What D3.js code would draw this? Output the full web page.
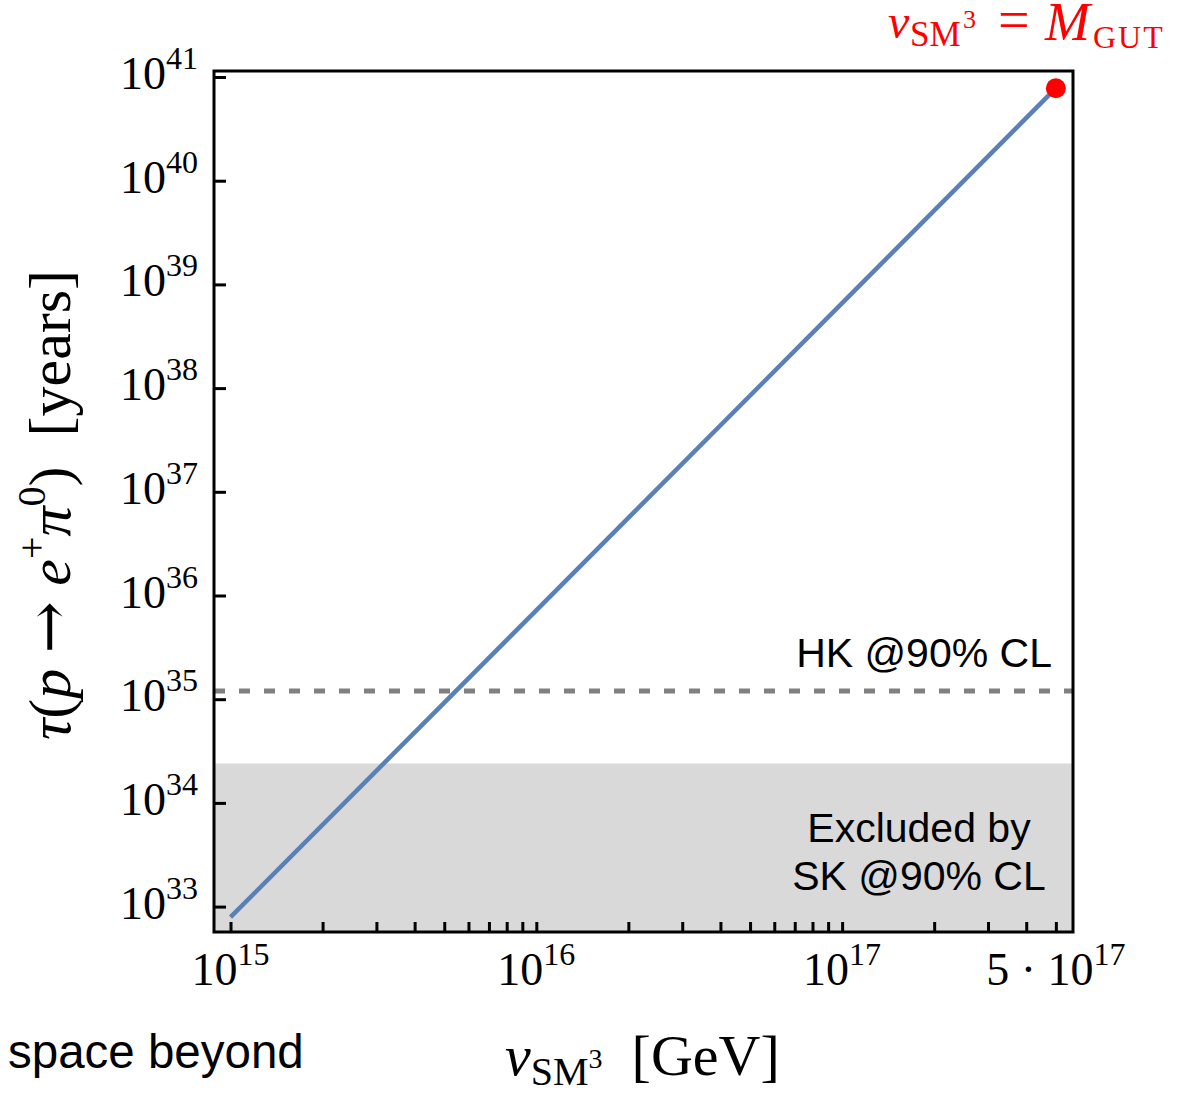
<!DOCTYPE html>
<html>
<head>
<meta charset="utf-8">
<script src="https://cdn.jsdelivr.net/npm/d3@7"></script>
<style>
  body { margin: 0; background: #fff; }
  svg { display: block; }
</style>
</head>
<body>
<svg id="chart" width="1178" height="1097"></svg>
<script>
// data
const vValues = [1e15, 1e16, 1e17, 5e17];
const tauValues = [7.9e32, 7.2e35, 6.6e38, 7.8e40];
const gutPoint = [5e17, 7.8e40];
const hkLimit = 1.2e35;
const skLimit = 2.4e34;
const xLabelTicks = [[1, 15], [1, 16], [1, 17], [5, 17]];
const yTickExps = [33, 34, 35, 36, 37, 38, 39, 40, 41];

const margin = {top: 71, left: 214};
const width = 859, height = 861;
const serif = "'Liberation Serif', 'Times New Roman', serif";
const sans = "'Liberation Sans', Arial, sans-serif";

const svg = d3.select('#chart');

const x = d3.scaleLog().domain([Math.pow(10, 14.946), Math.pow(10, 17.755)]).range([0, width]);
const y = d3.scaleLog().domain([Math.pow(10, 32.755), Math.pow(10, 41.058)]).range([height, 0]);

const chart = svg.append('g')
  .attr('transform', 'translate(' + margin.left + ',' + margin.top + ')');

// SK excluded band
chart.append('rect')
  .attr('x', 0).attr('y', y(skLimit))
  .attr('width', width).attr('height', height - y(skLimit))
  .attr('fill', '#d9d9d9');

// HK sensitivity
chart.append('line')
  .attr('x1', 0).attr('x2', width)
  .attr('y1', y(hkLimit)).attr('y2', y(hkLimit))
  .attr('stroke', '#808080').attr('stroke-width', 5)
  .attr('stroke-dasharray', '11,14');

// axes, ticks pointing inward
const minorTicks = x.ticks().filter(d => d >= 1e15);
const xAxis = d3.axisBottom(x).tickValues(minorTicks).tickSize(-10).tickFormat('');
const yAxis = d3.axisLeft(y).tickValues(yTickExps.map(e => Math.pow(10, e))).tickSize(-12).tickFormat('');

const gx = chart.append('g').attr('transform', 'translate(0,' + height + ')').call(xAxis);
const gy = chart.append('g').call(yAxis);
[gx, gy].forEach(g => {
  g.select('.domain').remove();
  g.selectAll('.tick line').attr('stroke', '#000').attr('stroke-width', 3);
});

// the curve
const line = d3.line().x((d, i) => x(vValues[i])).y(d => y(d));
chart.append('path')
  .datum(tauValues)
  .attr('fill', 'none')
  .attr('stroke', '#5b80b7')
  .attr('stroke-width', 4.5)
  .attr('d', line);

chart.append('circle')
  .attr('cx', x(gutPoint[0])).attr('cy', y(gutPoint[1]))
  .attr('r', 10).attr('fill', '#ff0000');

// frame
chart.append('rect')
  .attr('width', width).attr('height', height)
  .attr('fill', 'none').attr('stroke', '#000').attr('stroke-width', 3);

// tick labels
function powerLabel(sel, mant, exp) {
  if (mant !== 1) sel.append('tspan').text(mant + ' \u00b7 ');
  sel.append('tspan').text('10');
  sel.append('tspan').attr('font-size', 32).attr('dy', -20).text(exp);
}

yTickExps.forEach(e => {
  const t = chart.append('text')
    .attr('x', -16).attr('y', y(Math.pow(10, e)) + 12)
    .attr('text-anchor', 'end')
    .attr('font-family', serif).attr('font-size', 46);
  powerLabel(t, 1, e);
});

xLabelTicks.forEach(d => {
  const t = chart.append('text')
    .attr('x', x(d[0] * Math.pow(10, d[1]))).attr('y', height + 53)
    .attr('text-anchor', 'middle')
    .attr('font-family', serif).attr('font-size', 46);
  powerLabel(t, d[0], d[1]);
});

// annotations
chart.append('text')
  .attr('x', 838).attr('y', 596)
  .attr('text-anchor', 'end')
  .attr('font-family', sans).attr('font-size', 41)
  .text('HK @90% CL');

chart.append('text')
  .attr('x', 705).attr('y', 771)
  .attr('text-anchor', 'middle')
  .attr('font-family', sans).attr('font-size', 41)
  .text('Excluded by');
chart.append('text')
  .attr('x', 705).attr('y', 819)
  .attr('text-anchor', 'middle')
  .attr('font-family', sans).attr('font-size', 41)
  .text('SK @90% CL');

// axis titles
const xt = svg.append('text')
  .attr('x', 505).attr('y', 1075)
  .attr('font-family', serif).attr('font-size', 58);
xt.append('tspan').attr('font-style', 'italic').text('v');
xt.append('tspan').attr('font-size', 40).attr('dy', 10).text('SM');
xt.append('tspan').attr('font-size', 28).attr('dy', -17).text('3');
xt.append('tspan').attr('dy', 7).text('\u2002[GeV]');

const yt = svg.append('text')
  .attr('transform', 'translate(70,505) rotate(-90)')
  .attr('text-anchor', 'middle')
  .attr('font-family', serif).attr('font-size', 60);
yt.append('tspan').attr('font-style', 'italic').text('\u03c4');
yt.append('tspan').text('(');
yt.append('tspan').attr('font-style', 'italic').text('p');
yt.append('tspan').attr('font-family', "'DejaVu Serif', serif").attr('font-size', 62).text('\u2005\u2192\u2005');
yt.append('tspan').attr('font-style', 'italic').text('e');
yt.append('tspan').attr('font-size', 40).attr('dy', -25).text('+');
yt.append('tspan').attr('font-style', 'italic').attr('dy', 25).text('\u03c0');
yt.append('tspan').attr('font-size', 40).attr('dy', -25).text('0');
yt.append('tspan').attr('dy', 25).text(')\u2002[years]');

// red title, pieces placed one by one
const red = svg.append('g').attr('fill', '#ff0000').attr('font-family', serif);
red.append('text').attr('x', 888).attr('y', 38).attr('font-size', 48).attr('font-style', 'italic').text('v');
red.append('text').attr('x', 910).attr('y', 46).attr('font-size', 35).text('SM');
red.append('text').attr('x', 963).attr('y', 28).attr('font-size', 26).text('3');
red.append('text').attr('x', 998).attr('y', 39).attr('font-size', 56).text('=');
red.append('text').attr('x', 1045).attr('y', 40).attr('font-size', 54).attr('font-style', 'italic').text('M');
red.append('text').attr('x', 1093).attr('y', 48).attr('font-size', 32).attr('letter-spacing', 2).text('GUT');

svg.append('text')
  .attr('x', 8).attr('y', 1068)
  .attr('font-family', sans).attr('font-size', 47.5)
  .text('space beyond');
</script>
</body>
</html>
